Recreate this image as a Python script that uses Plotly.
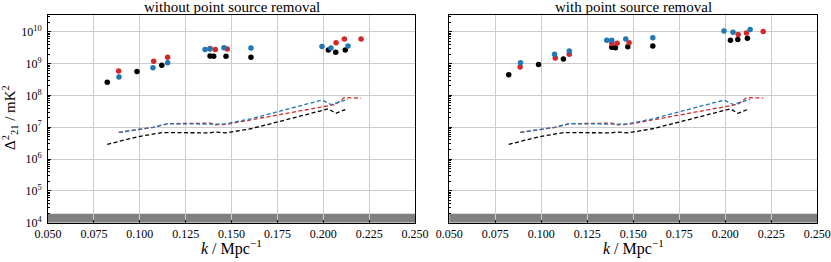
import plotly.graph_objects as go
import numpy as np

# ---------------- data ----------------
# left panel: without point source removal
k_black = [0.0823, 0.0985, 0.1120, 0.1383, 0.1403, 0.1470, 0.1606, 0.2028, 0.2068, 0.2120]
k_red = [0.0885, 0.1076, 0.1152, 0.1383, 0.1412, 0.1477, 0.2070, 0.2115, 0.2206]
k_blue = [0.0887, 0.1072, 0.1152, 0.1356, 0.1383, 0.1459, 0.1606, 0.1993, 0.2042, 0.2135]

ps_black_without = [2.6e8, 5.7e8, 9.0e8, 1.75e9, 1.7e9, 1.7e9, 1.6e9, 2.7e9, 2.3e9, 2.7e9]
ps_red_without = [5.9e8, 1.2e9, 1.6e9, 3.0e9, 2.8e9, 2.9e9, 4.6e9, 6.0e9, 6.0e9]
ps_blue_without = [3.8e8, 7.5e8, 1.07e9, 2.8e9, 2.9e9, 3.2e9, 3.1e9, 3.5e9, 3.1e9, 3.6e9]

# right panel: with point source removal
ps_black_with = [4.5e8, 9.4e8, 1.4e9, 3.3e9, 3.2e9, 3.4e9, 3.6e9, 5.5e9, 5.8e9, 6.3e9]
ps_red_with = [7.9e8, 1.5e9, 2.0e9, 4.3e9, 4.4e9, 4.6e9, 8.3e9, 9.3e9, 1.03e10]
ps_blue_with = [1.07e9, 2.0e9, 2.5e9, 5.5e9, 5.5e9, 6.0e9, 6.6e9, 1.07e10, 9.8e9, 1.2e10]

# noise levels (dashed), same in both panels
noise_black = [2.9e6, 5.0e6, 6.8e6, 6.7e6, 7.1e6, 6.7e6, 9.0e6, 3.8e7, 2.75e7, 3.6e7]
noise_red = [6.9e6, 1.0e7, 1.3e7, 1.35e7, 1.2e7, 1.25e7, 5.3e7, 8.6e7, 8.3e7]
noise_blue = [6.9e6, 1.0e7, 1.3e7, 1.3e7, 1.28e7, 1.25e7, 1.85e7, 7.2e7, 5.2e7, 7.6e7]

band_low, band_high = 1e4, 1.9e4

titles = ["without point source removal", "with point source removal"]
x_ticks = [0.050, 0.075, 0.100, 0.125, 0.150, 0.175, 0.200, 0.225, 0.250]
y_ticks = [1e4, 1e5, 1e6, 1e7, 1e8, 1e9, 1e10]
y_ticktext = ["10<sup>%d</sup>" % e for e in range(4, 11)]

# ---------------- styling ----------------
BLACK = "#000000"
RED = "#d62728"
BLUE = "#1f77b4"
FONT = "Liberation Serif"
W, H = 831, 262

fig = go.Figure()

panels = [
    (ps_black_without, ps_red_without, ps_blue_without),
    (ps_black_with, ps_red_with, ps_blue_with),
]
for i, (pb, pr, pbl) in enumerate(panels):
    xa = "x" if i == 0 else "x2"
    ya = "y" if i == 0 else "y2"
    for k, n, c in [(k_black, noise_black, BLACK), (k_red, noise_red, RED), (k_blue, noise_blue, BLUE)]:
        fig.add_trace(go.Scatter(x=k, y=n, mode="lines", xaxis=xa, yaxis=ya,
                                 line=dict(color=c, width=1.3, dash="4px,2.5px"),
                                 showlegend=False, hoverinfo="skip"))
    for k, p, c in [(k_black, pb, BLACK), (k_red, pr, RED), (k_blue, pbl, BLUE)]:
        fig.add_trace(go.Scatter(x=k, y=p, mode="markers", xaxis=xa, yaxis=ya,
                                 marker=dict(color=c, size=5.5, line=dict(width=0)),
                                 showlegend=False))

for xr, yr in [("x", "y"), ("x2", "y2")]:
    fig.add_shape(type="rect", xref=xr + " domain", yref=yr, x0=0, x1=1,
                  y0=band_low, y1=band_high,
                  fillcolor="#808080", line=dict(width=0), layer="below")

# axis geometry (pixels)
L1, R1 = 48, 415
L2, R2 = 449.3, 817.3
TOP, BOT = 15, 222.7
ydom = [1 - BOT / H, 1 - TOP / H]

minor_vals = [m * 10 ** e for e in range(4, 11) for m in range(2, 10)]

common_x = dict(range=[0.05, 0.25], tickvals=x_ticks, ticktext=["%.3f" % v for v in x_ticks],
                showline=True, linecolor="black", linewidth=1, mirror=True,
                ticks="inside", ticklen=3, tickcolor="black",
                showgrid=True, gridcolor="#cccccc", gridwidth=1, zeroline=False,
                tickfont=dict(family=FONT, size=12, color="black"), automargin=False,
                layer="above traces")
common_y = dict(type="log", range=[4, np.log10(3.4e10)], tickvals=y_ticks, ticktext=y_ticktext,
                showline=True, linecolor="black", linewidth=1, mirror=True,
                ticks="inside", ticklen=3, tickcolor="black",
                minor=dict(tickvals=minor_vals, ticks="inside", ticklen=2, tickcolor="black", showgrid=False),
                showgrid=True, gridcolor="#cccccc", gridwidth=1, zeroline=False,
                tickfont=dict(family=FONT, size=12, color="black"), automargin=False,
                ticklabelstandoff=3, layer="above traces")

fig.update_layout(
    width=W, height=H,
    margin=dict(l=0, r=0, t=0, b=0),
    paper_bgcolor="white", plot_bgcolor="white",
    xaxis=dict(domain=[L1 / W, R1 / W], anchor="y", **common_x),
    yaxis=dict(domain=ydom, anchor="x", **common_y),
    xaxis2=dict(domain=[L2 / W, R2 / W], anchor="y2", **common_x),
    yaxis2=dict(domain=ydom, anchor="x2", showticklabels=False, **common_y),
    font=dict(family=FONT, color="black"),
)

annotations = []
for (l, r), t in zip([(L1, R1), (L2, R2)], titles):
    annotations.append(dict(text=t, x=(l + r) / 2 / W, y=1 - 7.5 / H, xref="paper", yref="paper",
                            showarrow=False, font=dict(family=FONT, size=15, color="black"),
                            xanchor="center", yanchor="middle"))
    annotations.append(dict(text="<i>k</i> / Mpc<sup>−1</sup>", x=(l + r) / 2 / W, y=1 - 247 / H,
                            xref="paper", yref="paper", showarrow=False,
                            font=dict(family=FONT, size=16, color="black"),
                            xanchor="center", yanchor="middle"))
annotations.append(dict(text="Δ<sup>2</sup><sub>21</sub> / mK<sup>2</sup>", x=10 / W, y=1 - 118 / H,
                        xref="paper", yref="paper", showarrow=False, textangle=-90,
                        font=dict(family=FONT, size=15, color="black"),
                        xanchor="center", yanchor="middle"))
fig.update_layout(annotations=annotations)

fig.write_html("out.html", config={"displayModeBar": False},
               post_script="document.body.style.margin='0';")
